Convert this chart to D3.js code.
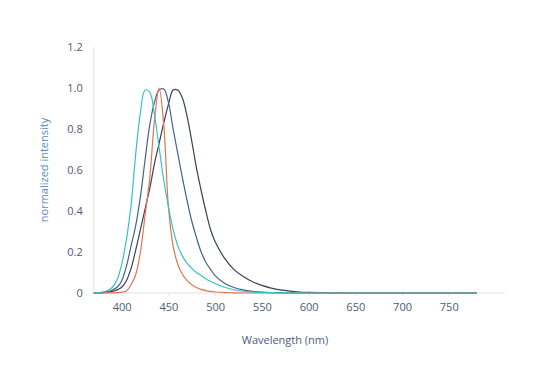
<!DOCTYPE html>
<html>
<head>
<meta charset="utf-8">
<script src="https://cdn.jsdelivr.net/npm/d3@7"></script>
<style>
  html, body { margin: 0; padding: 0; background: #ffffff; }
  svg { display: block; }
</style>
</head>
<body>
<svg id="chart" width="540" height="373"></svg>
<script>
const wavelengths = [370,375,380,385,390,395,400,405,410,415,420,425,430,435,440,445,450,455,460,465,470,475,480,485,490,495,500,
  510,520,530,540,550,560,570,580,590,600,620,640,660,680,700,720,740,760,780];

const tealValues = [0,0.002,0.005,0.012,0.028,0.065,0.14,0.26,0.43,0.68,0.88,0.99,0.98,0.87,0.71,0.55,0.42,0.31,0.23,0.18,0.145,0.12,0.10,0.085,0.07,0.057,0.046,
  0.028,0.016,0.009,0.005,0.003,0.0015,0.001,0.0005,0,0,0,0,0,0,0,0,0,0,0];

const orangeValues = [0,0,0,0.001,0.001,0.002,0.004,0.01,0.04,0.09,0.2,0.38,0.56,0.84,1.0,0.82,0.42,0.23,0.14,0.09,0.06,0.04,0.027,0.018,0.012,0.008,0.005,
  0.002,0.001,0,0,0,0,0,0,0,0,0,0,0,0,0,0,0,0,0];

const blueValues = [0.001,0.002,0.003,0.007,0.015,0.028,0.06,0.13,0.23,0.33,0.47,0.65,0.82,0.93,0.99,0.995,0.93,0.80,0.68,0.56,0.45,0.35,0.27,0.2,0.15,0.115,0.085,
  0.048,0.027,0.015,0.008,0.004,0.002,0.001,0.0005,0,0,0,0,0,0,0,0,0,0,0];

const darkValues = [0.001,0.001,0.002,0.004,0.008,0.015,0.028,0.06,0.12,0.21,0.31,0.41,0.51,0.63,0.73,0.83,0.92,0.99,0.99,0.95,0.86,0.74,0.61,0.50,0.40,0.31,0.25,
  0.17,0.115,0.08,0.055,0.037,0.024,0.015,0.009,0.005,0.003,0.001,0,0,0,0,0,0,0,0];

const xTicks = [400,450,500,550,600,650,700,750];
const yTicks = [0,0.2,0.4,0.6,0.8,1.0,1.2];
const yTickLabels = ["0","0.2","0.4","0.6","0.8","1.0","1.2"];
const xTitle = "Wavelength (nm)";
const yTitle = "normalized intensity";

const series = [
  {name: "dark", values: darkValues, color: "#3b4156"},
  {name: "blue", values: blueValues, color: "#46618f"},
  {name: "orange", values: orangeValues, color: "#e5734f"},
  {name: "teal", values: tealValues, color: "#35c3c4"}
];

const svg = d3.select("#chart");
const font = "'Open Sans', 'DejaVu Sans', sans-serif";

const x = d3.scaleLinear().domain([370, 810]).range([93.7, 504.8]);
const y = d3.scaleLinear().domain([0, 1.2]).range([293, 47]);

// axes lines
svg.append("line")
  .attr("x1", x(370)).attr("x2", x(810))
  .attr("y1", y(0)).attr("y2", y(0))
  .attr("stroke", "#e3e3e6").attr("stroke-width", 1);
svg.append("line")
  .attr("x1", x(370)).attr("x2", x(370))
  .attr("y1", y(0)).attr("y2", y(1.2))
  .attr("stroke", "#e3e3e6").attr("stroke-width", 1);

// x ticks
const xAxis = d3.axisBottom(x).tickValues(xTicks).tickSize(3).tickPadding(7).tickFormat(d3.format("d"));
const gx = svg.append("g").attr("transform", `translate(0,${y(0)})`).call(xAxis);
gx.select(".domain").remove();
gx.selectAll(".tick line").attr("stroke", "#e3e3e6");
gx.selectAll(".tick text").attr("fill", "#4d5a78").attr("font-size", 11).attr("font-family", font);

// y ticks
const yAxis = d3.axisLeft(y).tickValues(yTicks).tickSize(0).tickPadding(11)
  .tickFormat((d, i) => yTickLabels[i]);
const gy = svg.append("g").attr("transform", `translate(${x(370)},0)`).call(yAxis);
gy.select(".domain").remove();
gy.selectAll(".tick text").attr("fill", "#4d5a78").attr("font-size", 11).attr("font-family", font);

// titles
svg.append("text")
  .attr("x", 285).attr("y", 344)
  .attr("text-anchor", "middle")
  .attr("fill", "#4d5a80").attr("font-size", 11).attr("font-family", font)
  .text(xTitle);
svg.append("text")
  .attr("transform", "translate(48,170) rotate(-90)")
  .attr("text-anchor", "middle")
  .attr("fill", "#5a8bc4").attr("font-size", 11).attr("font-family", font)
  .text(yTitle);

// lines
const line = d3.line()
  .x((d, i) => x(wavelengths[i]))
  .y(d => y(d))
  .curve(d3.curveCatmullRom.alpha(0.5));

svg.append("g").selectAll("path")
  .data(series)
  .join("path")
  .attr("d", s => line(s.values))
  .attr("fill", "none")
  .attr("stroke", s => s.color)
  .attr("stroke-width", 1.2);
</script>
</body>
</html>
